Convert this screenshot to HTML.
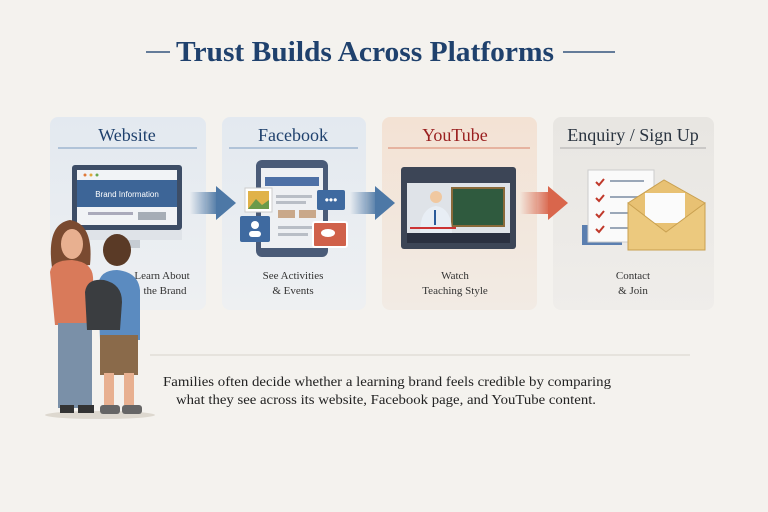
<!DOCTYPE html>
<html><head><meta charset="utf-8"><style>
body{margin:0;width:768px;height:512px;overflow:hidden;background:#f4f2ee}
svg{display:block}
text{font-family:"Liberation Serif",serif}
.s{font-family:"Liberation Sans",sans-serif}
</style></head><body>
<svg width="768" height="512" viewBox="0 0 768 512">
<defs>
<linearGradient id="bl" x1="0" x2="0" y1="0" y2="1"><stop offset="0" stop-color="#e3e9f0"/><stop offset="1" stop-color="#eef0f2"/></linearGradient>
<linearGradient id="or" x1="0" x2="0" y1="0" y2="1"><stop offset="0" stop-color="#f3e2d4"/><stop offset="1" stop-color="#f2ebe4"/></linearGradient>
<linearGradient id="gr" x1="0" x2="0" y1="0" y2="1"><stop offset="0" stop-color="#e8e6e2"/><stop offset="1" stop-color="#efedea"/></linearGradient>
<linearGradient id="ab" x1="0" x2="1"><stop offset="0" stop-color="#4d78a6" stop-opacity="0"/><stop offset="1" stop-color="#4d78a6"/></linearGradient>
<linearGradient id="ar" x1="0" x2="1"><stop offset="0" stop-color="#d9664c" stop-opacity="0"/><stop offset="1" stop-color="#d9664c"/></linearGradient>
</defs>
<rect width="768" height="512" fill="#f4f2ee"/>
<!-- title -->
<line x1="146" y1="52" x2="170" y2="52" stroke="#34557d" stroke-width="1.5"/>
<line x1="563" y1="52" x2="615" y2="52" stroke="#34557d" stroke-width="1.5"/>
<text x="365" y="61" font-size="28" font-weight="bold" fill="#1f416d" text-anchor="middle" textLength="378" lengthAdjust="spacingAndGlyphs">Trust Builds Across Platforms</text>
<!-- panels -->
<rect x="50" y="117" width="156" height="193" rx="8" fill="url(#bl)"/>
<rect x="222" y="117" width="144" height="193" rx="8" fill="url(#bl)"/>
<rect x="382" y="117" width="155" height="193" rx="8" fill="url(#or)"/>
<rect x="553" y="117" width="161" height="193" rx="8" fill="url(#gr)"/>
<text x="127" y="141" font-size="18" fill="#1f416d" text-anchor="middle">Website</text>
<text x="293" y="141" font-size="18" fill="#1f416d" text-anchor="middle">Facebook</text>
<text x="455" y="141" font-size="18" fill="#9a2020" text-anchor="middle">YouTube</text>
<text x="633" y="141" font-size="18" fill="#2a3440" text-anchor="middle">Enquiry / Sign Up</text>
<line x1="58" y1="148" x2="197" y2="148" stroke="#7c9cc0"/>
<line x1="229" y1="148" x2="358" y2="148" stroke="#7c9cc0"/>
<line x1="388" y1="148" x2="530" y2="148" stroke="#d9826a"/>
<line x1="560" y1="148" x2="706" y2="148" stroke="#aaa"/>
<!-- website monitor -->
<rect x="72" y="165" width="110" height="65" rx="3" fill="#3d4d66"/>
<rect x="77" y="170" width="100" height="55" fill="#f1f3f6"/>
<rect x="77" y="180" width="100" height="27" fill="#3d6597"/>
<circle cx="85" cy="175" r="1.5" fill="#e07a3a"/><circle cx="91" cy="175" r="1.5" fill="#e0a83a"/><circle cx="97" cy="175" r="1.5" fill="#6aa84f"/>
<text x="127" y="197" font-size="8" fill="#fff" text-anchor="middle" class="s">Brand Information</text>
<rect x="88" y="212" width="45" height="3" fill="#aab"/><rect x="138" y="212" width="28" height="8" fill="#a6adb6"/>
<rect x="72" y="230" width="110" height="10" fill="#dfe3e8"/>
<rect x="110" y="240" width="30" height="8" fill="#c6ccd3"/>
<text x="162" y="279" font-size="11" fill="#333" text-anchor="middle">Learn About</text>
<text x="165" y="294" font-size="11" fill="#333" text-anchor="middle">the Brand</text>
<!-- arrows -->
<rect x="190" y="192" width="28" height="22" fill="url(#ab)"/><polygon points="216,186 236,203 216,220" fill="#4d78a6"/>
<rect x="350" y="192" width="28" height="22" fill="url(#ab)"/><polygon points="375,186 395,203 375,220" fill="#4d78a6"/>
<rect x="520" y="192" width="30" height="22" fill="url(#ar)"/><polygon points="548,186 568,203 548,220" fill="#d9664c"/>
<!-- facebook tablet -->
<rect x="256" y="160" width="72" height="97" rx="6" fill="#4a5b78"/>
<rect x="261" y="168" width="62" height="80" fill="#eef0f3"/>
<rect x="265" y="177" width="54" height="9" fill="#4e70a6"/>
<rect x="276" y="195" width="36" height="3" fill="#b9bec6"/><rect x="276" y="201" width="30" height="3" fill="#b9bec6"/>
<rect x="278" y="210" width="17" height="8" fill="#c9a88a"/><rect x="299" y="210" width="17" height="8" fill="#c9a88a"/>
<rect x="278" y="226" width="36" height="3" fill="#b9bec6"/><rect x="278" y="233" width="30" height="3" fill="#b9bec6"/>
<rect x="245" y="188" width="27" height="24" fill="#fff" stroke="#ccc"/><rect x="248" y="191" width="21" height="18" fill="#e0b24a"/><polygon points="248,209 256,199 262,205 269,200 269,209" fill="#6a9a4a"/>
<rect x="240" y="216" width="30" height="26" rx="2" fill="#3f6aa0"/><circle cx="255" cy="225" r="4" fill="#fff"/><rect x="249" y="231" width="12" height="6" rx="3" fill="#fff"/>
<rect x="317" y="190" width="28" height="20" rx="2" fill="#3f6aa0"/><text x="331" y="204" font-size="12" fill="#fff" text-anchor="middle" class="s">•••</text>
<rect x="313" y="222" width="34" height="25" rx="2" fill="#d0614a" stroke="#fff" stroke-width="2"/><ellipse cx="328" cy="233" rx="7" ry="4" fill="#fff"/>
<text x="293" y="279" font-size="11" fill="#333" text-anchor="middle">See Activities</text>
<text x="293" y="294" font-size="11" fill="#333" text-anchor="middle">&amp; Events</text>
<!-- youtube -->
<rect x="401" y="167" width="115" height="82" rx="3" fill="#3c4556"/>
<rect x="407" y="183" width="103" height="50" fill="#dfe3e8"/>
<rect x="452" y="188" width="52" height="38" fill="#2f5a3e" stroke="#8a6a3a" stroke-width="2"/>
<circle cx="436" cy="197" r="6" fill="#f0c8a0"/><path d="M420 233 Q420 208 436 206 Q452 208 452 233Z" fill="#e8eef5"/>
<rect x="434" y="210" width="2" height="15" fill="#2a5a9a"/>
<line x1="410" y1="228" x2="456" y2="228" stroke="#c33" stroke-width="2"/>
<rect x="407" y="233" width="103" height="10" fill="#2a3040"/>
<text x="455" y="279" font-size="11" fill="#333" text-anchor="middle">Watch</text>
<text x="455" y="294" font-size="11" fill="#333" text-anchor="middle">Teaching Style</text>
<!-- enquiry -->
<rect x="582" y="225" width="40" height="20" fill="#5b7fb0"/>
<rect x="588" y="170" width="66" height="72" fill="#fafafa" stroke="#ccc"/>
<g fill="none" stroke="#c0392b" stroke-width="2"><path d="M596 182l3 3 5-6M596 198l3 3 5-6M596 214l3 3 5-6M596 229l3 3 5-6"/></g>
<g fill="#9aa7b8"><rect x="610" y="180" width="34" height="2"/><rect x="610" y="196" width="30" height="2"/><rect x="610" y="212" width="30" height="2"/><rect x="610" y="227" width="26" height="2"/></g>
<polygon points="628,203 664,180 705,203 705,250 628,250" fill="#e8c173" stroke="#c9a050"/>
<rect x="645" y="193" width="40" height="30" fill="#fbfbfb"/>
<polygon points="628,203 666,232 705,203 705,250 628,250" fill="#ecc97e" stroke="#c9a050"/>
<text x="633" y="279" font-size="11" fill="#333" text-anchor="middle">Contact</text>
<text x="633" y="294" font-size="11" fill="#333" text-anchor="middle">&amp; Join</text>
<!-- separator -->
<line x1="150" y1="355" x2="690" y2="355" stroke="#d8d4cc"/>
<text x="163" y="386" font-size="13.5" fill="#222" textLength="448" lengthAdjust="spacingAndGlyphs">Families often decide whether a learning brand feels credible by comparing</text>
<text x="176" y="404" font-size="13.5" fill="#222" textLength="420" lengthAdjust="spacingAndGlyphs">what they see across its website, Facebook page, and YouTube content.</text>
<!-- kids -->
<ellipse cx="100" cy="415" rx="55" ry="4" fill="#ddd8cf"/>
<path d="M52 268 Q46 224 70 220 Q94 224 90 265Z" fill="#7a4a30"/>
<ellipse cx="72" cy="244" rx="11" ry="15" fill="#e8b090"/>
<path d="M50 272 Q52 260 72 260 Q92 262 93 277 L95 325 L55 325Z" fill="#d97a5a"/>
<rect x="58" y="323" width="34" height="85" fill="#7a90a8"/>
<rect x="60" y="405" width="14" height="8" fill="#333"/><rect x="78" y="405" width="16" height="8" fill="#333"/>
<ellipse cx="117" cy="250" rx="14" ry="16" fill="#5a3a26"/>
<path d="M98 285 Q100 270 117 270 Q138 272 140 290 L140 340 L100 340Z" fill="#5b8bc0"/>
<path d="M85 292 Q87 278 104 280 Q122 284 122 302 L120 330 L87 330Z" fill="#3a3d40"/>
<rect x="100" y="335" width="38" height="40" fill="#8a6a4a"/>
<rect x="104" y="373" width="10" height="32" fill="#e8b090"/><rect x="124" y="373" width="10" height="32" fill="#e8b090"/>
<rect x="100" y="405" width="20" height="9" rx="3" fill="#666"/><rect x="122" y="405" width="20" height="9" rx="3" fill="#666"/>
</svg>
</body></html>
